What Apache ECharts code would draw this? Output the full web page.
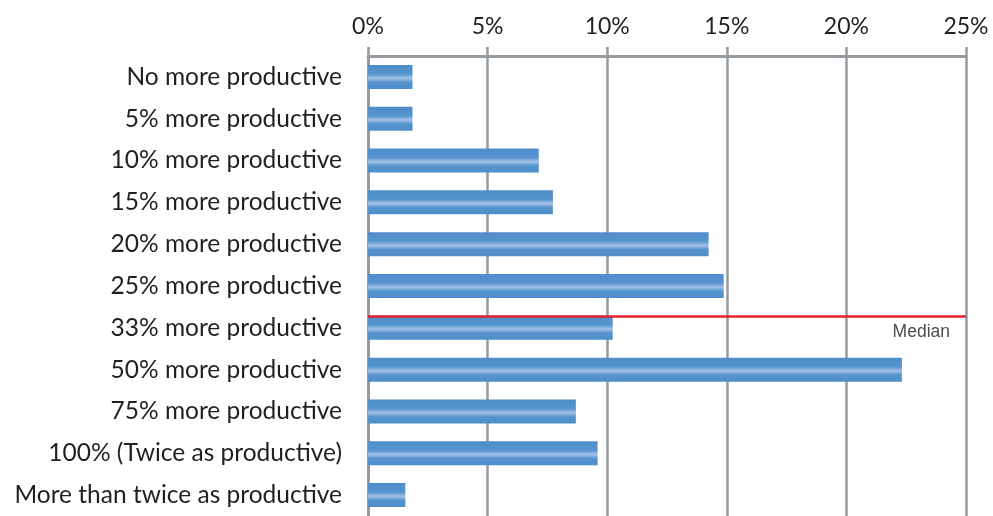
<!DOCTYPE html>
<html>
<head>
<meta charset="utf-8">
<script src="https://cdn.jsdelivr.net/npm/echarts@6/dist/echarts.min.js"></script>
<style>
  html, body { margin: 0; padding: 0; background: #ffffff; }
  #chart { width: 993px; height: 516px; }
</style>
</head>
<body>
<div id="chart"></div>
<script>
// Productivity gain categories, top to bottom
const categories = [
  'No more productive',
  '5% more productive',
  '10% more productive',
  '15% more productive',
  '20% more productive',
  '25% more productive',
  '33% more productive',
  '50% more productive',
  '75% more productive',
  '100% (Twice as productive)',
  'More than twice as productive'
];

// Share of respondents (%)
const shares = [1.86, 1.86, 7.14, 7.73, 14.24, 14.87, 10.23, 22.32, 8.69, 9.6, 1.56];

// Percent axis ticks
const axisTicks = [0, 5, 10, 15, 20, 25];

// Median marker, in row units measured from the top of the category band
const medianRow = 6.22;
const medianLabel = 'Median';

const gridColor = '#959ba1';
const barFill = new echarts.graphic.LinearGradient(0, 0, 0, 1, [
  { offset: 0, color: '#4f8eca' },
  { offset: 0.38, color: '#5694ce' },
  { offset: 0.55, color: '#a3c1e6' },
  { offset: 0.72, color: '#5694ce' },
  { offset: 1, color: '#4f8eca' }
]);

const chart = echarts.init(document.getElementById('chart'));
chart.setOption({
  animation: false,
  grid: { left: 368, right: 27, top: 56, height: 461, containLabel: false },
  xAxis: {
    type: 'value',
    position: 'top',
    min: axisTicks[0],
    max: axisTicks[axisTicks.length - 1],
    interval: axisTicks[1] - axisTicks[0],
    axisLine: { show: true, lineStyle: { color: gridColor, width: 3 } },
    axisTick: { show: true, length: 9, lineStyle: { color: gridColor, width: 2.5 } },
    axisLabel: {
      margin: 18,
      fontFamily: 'Lato',
      fontSize: 23,
      color: '#231f20',
      formatter: v => v + '%'
    },
    splitLine: { show: true, lineStyle: { color: gridColor, width: 2.5 } }
  },
  yAxis: [
    {
      type: 'category',
      inverse: true,
      data: categories,
      axisLine: { show: true, lineStyle: { color: gridColor, width: 3 } },
      axisTick: { show: false },
      axisLabel: {
        margin: 26,
        fontFamily: 'Lato',
        fontSize: 24.5,
        color: '#231f20'
      }
    },
    {
      type: 'value',
      inverse: true,
      min: 0,
      max: categories.length,
      show: false
    }
  ],
  series: [
    {
      type: 'bar',
      data: shares,
      barWidth: 24,
      itemStyle: { color: barFill },
      z: 3
    },
    {
      type: 'line',
      yAxisIndex: 1,
      data: [],
      symbol: 'none',
      markLine: {
        silent: true,
        symbol: ['none', 'none'],
        lineStyle: { color: '#e8202a', width: 2.5, type: 'solid' },
        label: {
          show: true,
          position: 'insideEndBottom',
          formatter: medianLabel,
          fontFamily: 'Liberation Sans',
          fontSize: 17.5,
          color: '#4d4d4d',
          distance: [16, 7]
        },
        data: [{ yAxis: medianRow }]
      },
      z: 4
    }
  ]
});
</script>
</body>
</html>
